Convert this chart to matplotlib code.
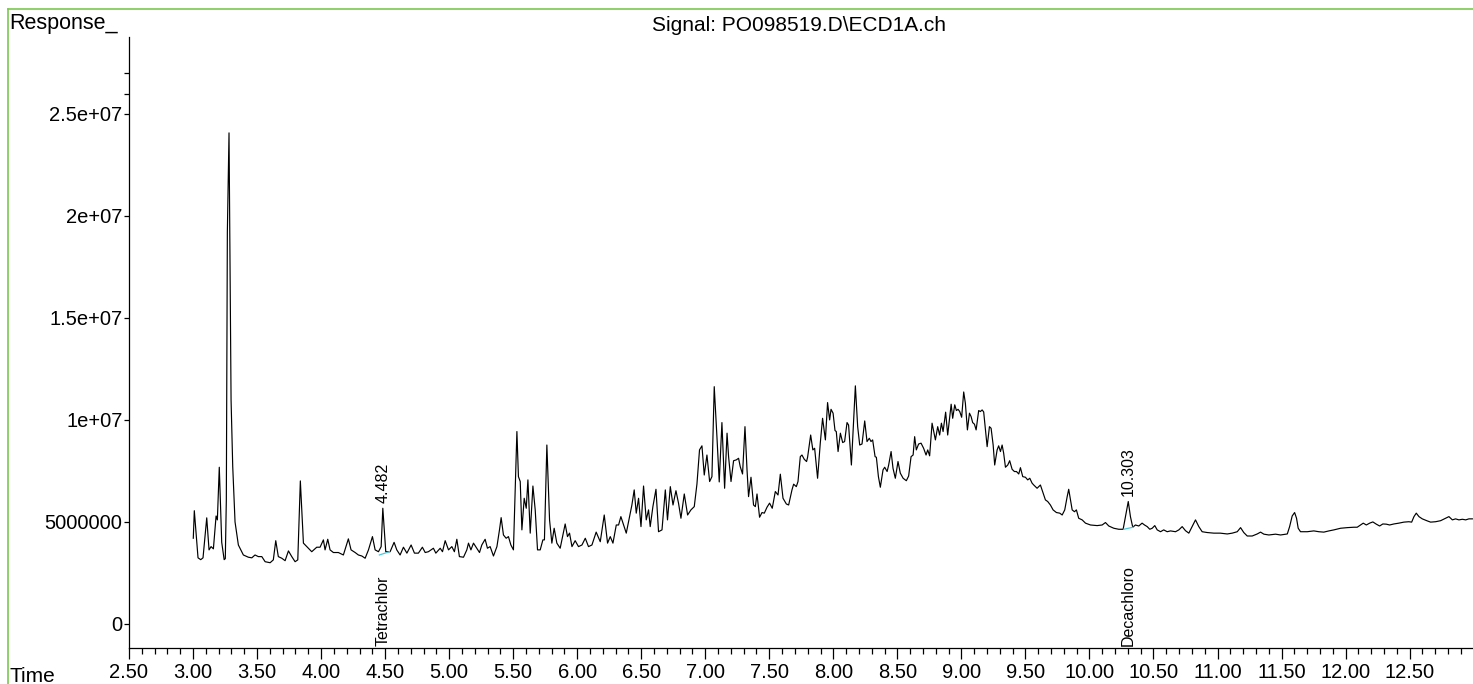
import matplotlib
matplotlib.use("Agg")
import numpy as np
import matplotlib.pyplot as plt
from matplotlib.lines import Line2D
from matplotlib.ticker import FixedLocator, MultipleLocator

plt.rcParams['font.family'] = ['Liberation Sans', 'DejaVu Sans']

# retention time (min)
time_min = [
    3.002, 3.010, 3.039, 3.060, 3.078, 3.107, 3.125, 3.141, 3.159, 3.180, 3.190, 3.205,
    3.224, 3.243, 3.252, 3.260, 3.268, 3.281, 3.289, 3.297, 3.310, 3.328, 3.354, 3.393,
    3.432, 3.459, 3.484, 3.510, 3.537, 3.563, 3.602, 3.627, 3.646, 3.666, 3.693, 3.719,
    3.745, 3.771, 3.797, 3.818, 3.838, 3.862, 3.888, 3.927, 3.966, 3.992, 4.018, 4.031,
    4.052, 4.070, 4.096, 4.135, 4.174, 4.213, 4.234, 4.266, 4.291, 4.318, 4.344, 4.370,
    4.401, 4.422, 4.448, 4.469, 4.482, 4.505, 4.539, 4.570, 4.591, 4.617, 4.643, 4.670,
    4.703, 4.729, 4.760, 4.791, 4.813, 4.838, 4.877, 4.896, 4.930, 4.948, 4.969, 4.995,
    5.021, 5.041, 5.060, 5.080, 5.112, 5.138, 5.151, 5.170, 5.190, 5.216, 5.237, 5.255,
    5.281, 5.299, 5.320, 5.346, 5.373, 5.393, 5.406, 5.424, 5.445, 5.463, 5.482, 5.502,
    5.529, 5.541, 5.555, 5.568, 5.586, 5.602, 5.615, 5.633, 5.654, 5.672, 5.690, 5.711,
    5.732, 5.744, 5.763, 5.784, 5.802, 5.820, 5.841, 5.867, 5.906, 5.924, 5.940, 5.959,
    5.984, 6.010, 6.037, 6.063, 6.088, 6.115, 6.148, 6.180, 6.211, 6.237, 6.258, 6.279,
    6.305, 6.323, 6.341, 6.362, 6.383, 6.409, 6.427, 6.445, 6.461, 6.479, 6.498, 6.518,
    6.539, 6.557, 6.570, 6.591, 6.615, 6.635, 6.662, 6.688, 6.705, 6.727, 6.748, 6.771,
    6.791, 6.810, 6.836, 6.862, 6.888, 6.914, 6.935, 6.955, 6.974, 6.992, 7.013, 7.034,
    7.052, 7.070, 7.091, 7.109, 7.130, 7.151, 7.170, 7.182, 7.201, 7.221, 7.242, 7.260,
    7.273, 7.291, 7.310, 7.326, 7.338, 7.357, 7.377, 7.391, 7.404, 7.424, 7.443, 7.461,
    7.482, 7.502, 7.523, 7.547, 7.568, 7.586, 7.607, 7.633, 7.651, 7.677, 7.690, 7.711,
    7.724, 7.742, 7.755, 7.773, 7.791, 7.799, 7.823, 7.840, 7.854, 7.877, 7.898, 7.916,
    7.938, 7.955, 7.971, 7.982, 7.998, 8.013, 8.023, 8.037, 8.055, 8.073, 8.088, 8.107,
    8.119, 8.141, 8.159, 8.172, 8.190, 8.206, 8.224, 8.245, 8.263, 8.281, 8.294, 8.307,
    8.326, 8.336, 8.352, 8.367, 8.388, 8.401, 8.420, 8.432, 8.451, 8.466, 8.484, 8.505,
    8.523, 8.545, 8.570, 8.588, 8.607, 8.623, 8.635, 8.648, 8.666, 8.685, 8.705, 8.724,
    8.737, 8.752, 8.771, 8.784, 8.797, 8.815, 8.830, 8.844, 8.857, 8.877, 8.893, 8.909,
    8.920, 8.932, 8.948, 8.961, 8.974, 8.987, 9.002, 9.018, 9.031, 9.047, 9.063, 9.076,
    9.088, 9.102, 9.115, 9.135, 9.148, 9.162, 9.174, 9.188, 9.201, 9.219, 9.232, 9.248,
    9.260, 9.279, 9.291, 9.305, 9.318, 9.330, 9.344, 9.362, 9.377, 9.396, 9.414, 9.430,
    9.448, 9.461, 9.479, 9.500, 9.518, 9.534, 9.552, 9.565, 9.591, 9.617, 9.638, 9.656,
    9.674, 9.695, 9.716, 9.742, 9.768, 9.787, 9.807, 9.826, 9.838, 9.852, 9.865, 9.883,
    9.898, 9.916, 9.943, 9.969, 10.008, 10.060, 10.099, 10.125, 10.151, 10.190, 10.229, 10.263,
    10.281, 10.303, 10.320, 10.338, 10.359, 10.385, 10.411, 10.430, 10.451, 10.471, 10.490, 10.510,
    10.529, 10.555, 10.580, 10.607, 10.633, 10.672, 10.698, 10.724, 10.750, 10.776, 10.802, 10.828,
    10.854, 10.880, 10.919, 10.971, 11.021, 11.076, 11.115, 11.154, 11.180, 11.205, 11.232, 11.271,
    11.310, 11.336, 11.362, 11.401, 11.453, 11.492, 11.545, 11.563, 11.583, 11.602, 11.617, 11.630,
    11.648, 11.701, 11.752, 11.791, 11.830, 11.870, 11.909, 11.961, 12.013, 12.065, 12.091, 12.117,
    12.138, 12.162, 12.188, 12.213, 12.240, 12.266, 12.291, 12.318, 12.344, 12.377, 12.416, 12.455,
    12.494, 12.516, 12.534, 12.552, 12.573, 12.599, 12.638, 12.664, 12.703, 12.742, 12.781, 12.807,
    12.834, 12.859, 12.885, 12.912, 12.938, 12.963, 12.990,
]

# detector response, in millions
response_1e6 = [
    4.20, 5.55, 3.24, 3.15, 3.24, 5.20, 3.63, 3.79, 3.68, 5.29, 5.10, 7.68,
    4.00, 3.15, 3.20, 6.08, 19.20, 24.07, 17.50, 10.98, 7.71, 5.00, 3.87, 3.38,
    3.27, 3.24, 3.38, 3.30, 3.30, 3.05, 3.00, 3.14, 4.08, 3.30, 3.22, 3.10,
    3.58, 3.30, 3.05, 3.14, 7.01, 3.96, 3.79, 3.54, 3.76, 3.76, 4.12, 3.63,
    4.15, 3.63, 3.50, 3.50, 3.38, 4.17, 3.63, 3.50, 3.38, 3.33, 3.22, 3.63,
    4.28, 3.63, 3.54, 3.79, 5.67, 3.54, 3.54, 4.00, 3.63, 3.38, 3.76, 3.47,
    3.87, 3.47, 3.47, 3.76, 3.50, 3.54, 3.71, 3.47, 3.71, 3.54, 4.08, 3.63,
    3.79, 3.54, 4.15, 3.30, 3.27, 3.63, 3.96, 3.63, 3.96, 3.71, 3.50, 3.87,
    4.15, 3.71, 3.79, 3.33, 3.79, 4.61, 5.21, 4.36, 4.20, 4.28, 3.87, 3.63,
    9.43, 7.22, 6.98, 4.61, 6.16, 5.67, 7.06, 4.45, 6.76, 5.59, 3.63, 3.63,
    4.12, 4.12, 8.77, 5.10, 3.96, 4.69, 3.96, 3.71, 4.90, 4.28, 4.45, 3.79,
    4.08, 3.79, 3.87, 4.20, 3.79, 3.87, 4.50, 4.03, 5.34, 3.96, 4.28, 3.96,
    4.85, 4.85, 5.26, 4.85, 4.45, 5.26, 5.83, 6.57, 5.43, 6.16, 4.77, 6.76,
    5.10, 5.59, 4.77, 5.75, 6.60, 4.52, 4.61, 6.57, 5.10, 6.73, 5.83, 6.53,
    5.92, 5.18, 6.37, 5.34, 5.59, 5.75, 6.86, 8.53, 8.73, 7.30, 8.28, 6.98,
    7.22, 11.63, 9.18, 6.96, 9.87, 6.65, 9.35, 8.20, 6.98, 8.00, 8.04, 8.12,
    7.71, 7.35, 9.67, 7.55, 6.24, 7.19, 5.83, 5.75, 6.37, 5.23, 5.46, 5.43,
    5.72, 5.92, 5.67, 6.49, 6.32, 7.34, 6.16, 5.88, 5.83, 6.57, 6.85, 6.73,
    6.98, 8.20, 8.28, 8.07, 7.96, 8.17, 9.26, 8.53, 8.61, 7.14, 8.86, 10.08,
    9.02, 10.85, 10.00, 10.52, 10.33, 9.48, 9.43, 8.45, 9.35, 8.89, 8.94, 9.87,
    9.75, 7.79, 10.00, 11.67, 9.67, 8.77, 8.82, 9.95, 8.94, 9.10, 8.94, 9.02,
    8.20, 8.17, 7.22, 6.70, 7.55, 7.68, 7.47, 7.79, 8.45, 7.63, 7.14, 7.96,
    7.39, 7.14, 7.02, 7.25, 8.20, 8.28, 9.18, 8.53, 8.82, 8.86, 8.61, 8.28,
    8.53, 8.24, 9.84, 9.43, 9.02, 9.67, 9.26, 9.84, 9.43, 10.38, 9.26, 10.16,
    10.77, 10.08, 10.74, 10.46, 10.52, 10.41, 10.13, 11.37, 10.82, 9.51, 10.33, 10.16,
    9.87, 9.79, 9.51, 10.46, 10.41, 10.49, 10.39, 9.51, 8.69, 9.67, 9.59, 8.77,
    7.79, 8.53, 8.73, 8.45, 8.77, 8.37, 7.68, 7.79, 8.00, 7.58, 7.47, 7.47,
    7.35, 7.66, 7.22, 7.19, 7.06, 7.14, 6.90, 6.81, 6.65, 6.81, 6.41, 6.08,
    6.00, 5.83, 5.59, 5.46, 5.43, 5.34, 5.59, 6.24, 6.60, 6.08, 5.59, 5.50,
    5.59, 5.18, 5.10, 4.94, 4.85, 4.82, 4.85, 4.97, 4.80, 4.69, 4.64, 4.64,
    5.26, 6.00, 5.26, 4.74, 4.85, 4.80, 4.94, 4.85, 4.77, 4.64, 4.69, 4.82,
    4.61, 4.52, 4.61, 4.52, 4.56, 4.52, 4.61, 4.77, 4.57, 4.45, 4.77, 5.10,
    4.77, 4.52, 4.48, 4.45, 4.45, 4.41, 4.45, 4.52, 4.72, 4.48, 4.31, 4.31,
    4.41, 4.50, 4.40, 4.36, 4.40, 4.36, 4.41, 4.77, 5.29, 5.46, 5.18, 4.69,
    4.52, 4.52, 4.56, 4.52, 4.50, 4.56, 4.61, 4.69, 4.72, 4.74, 4.74, 4.85,
    4.94, 4.85, 4.94, 5.00, 4.89, 4.80, 4.90, 4.89, 4.85, 4.90, 4.94, 4.99,
    5.01, 4.99, 5.26, 5.43, 5.26, 5.15, 5.05, 4.99, 5.01, 5.06, 5.18, 5.26,
    5.10, 5.15, 5.10, 5.13, 5.10, 5.15, 5.15,
]

# integrated peaks
peak_rt = [4.482, 10.303]
peak_names = ["Tetrachlor", "Decachloro"]
peak_base_start = [4.455, 10.268]
peak_base_end = [4.534, 10.341]
peak_base_start_resp = [3.38, 4.64]
peak_base_end_resp = [3.54, 4.74]

y_ticks = [0, 5e6, 1e7, 1.5e7, 2e7, 2.5e7]
y_tick_labels = ["0", "5000000", "1e+07", "1.5e+07", "2e+07", "2.5e+07"]
y_minor_ticks = [2.6e7, 2.7e7]
x_ticks = [2.5 + 0.5 * i for i in range(21)]

t = np.array(time_min)
r = np.array(response_1e6) * 1e6

W, H = 1473, 684
fig = plt.figure(figsize=(W / 100, H / 100), dpi=100)
ax = fig.add_axes([129 / W, 36 / H, 1 - 129 / W, (648 - 37) / H])

ax.plot(t, r, color="black", lw=0.85)

for i in range(len(peak_rt)):
    ax.plot([peak_base_start[i], peak_base_end[i]],
            [peak_base_start_resp[i] * 1e6, peak_base_end_resp[i] * 1e6],
            color="#4cc8dc", lw=0.9)
    top = r[np.argmin(np.abs(t - peak_rt[i]))]
    ax.annotate(f"{peak_rt[i]:.3f}", xy=(peak_rt[i], top), xytext=(0, 4),
                textcoords="offset points", rotation=90, ha="center", va="bottom",
                fontsize=11.5)

ax.set_xlim(2.5, 12.995)
ax.set_ylim(-1.18e6, 28.77e6)

for i in range(len(peak_rt)):
    ax.annotate(peak_names[i], xy=(peak_rt[i], -1.18e6), xytext=(0, 1.5),
                textcoords="offset points", rotation=90, ha="center", va="bottom",
                fontsize=11.5)

ax.spines["top"].set_visible(False)
ax.spines["right"].set_visible(False)
ax.spines["left"].set_linewidth(0.9)
ax.spines["bottom"].set_linewidth(0.9)

ax.xaxis.set_major_locator(FixedLocator(x_ticks))
ax.set_xticklabels([f"{v:.2f}" for v in x_ticks])
ax.xaxis.set_minor_locator(MultipleLocator(0.1))
ax.yaxis.set_major_locator(FixedLocator(y_ticks))
ax.set_yticklabels(y_tick_labels)
ax.yaxis.set_minor_locator(FixedLocator(y_minor_ticks))

ax.tick_params(axis="x", which="major", length=8, width=0.9, pad=3, labelsize=14.5)
ax.tick_params(axis="x", which="minor", length=4.3, width=0.9)
ax.tick_params(axis="y", which="major", length=3.6, width=0.9, pad=1, labelsize=14.5)
ax.tick_params(axis="y", which="minor", length=3.6, width=0.9)

fig.text(9 / W, 1 - 29 / H, "Response_", fontsize=15.5, va="baseline", ha="left")
fig.text(9 / W, 2 / H, "Time", fontsize=15, va="baseline", ha="left")
fig.text(799 / W, 1 - 31 / H, "Signal: PO098519.D\\ECD1A.ch", fontsize=15,
         va="baseline", ha="center")

green = "#7cc850"
fig.add_artist(Line2D([8 / W, 1], [1 - 9 / H, 1 - 9 / H], color=green, lw=1.2,
                      transform=fig.transFigure))
fig.add_artist(Line2D([8 / W, 8 / W], [0, 1 - 9 / H], color=green, lw=1.2,
                      transform=fig.transFigure))

fig.savefig("out.png", dpi=100)
